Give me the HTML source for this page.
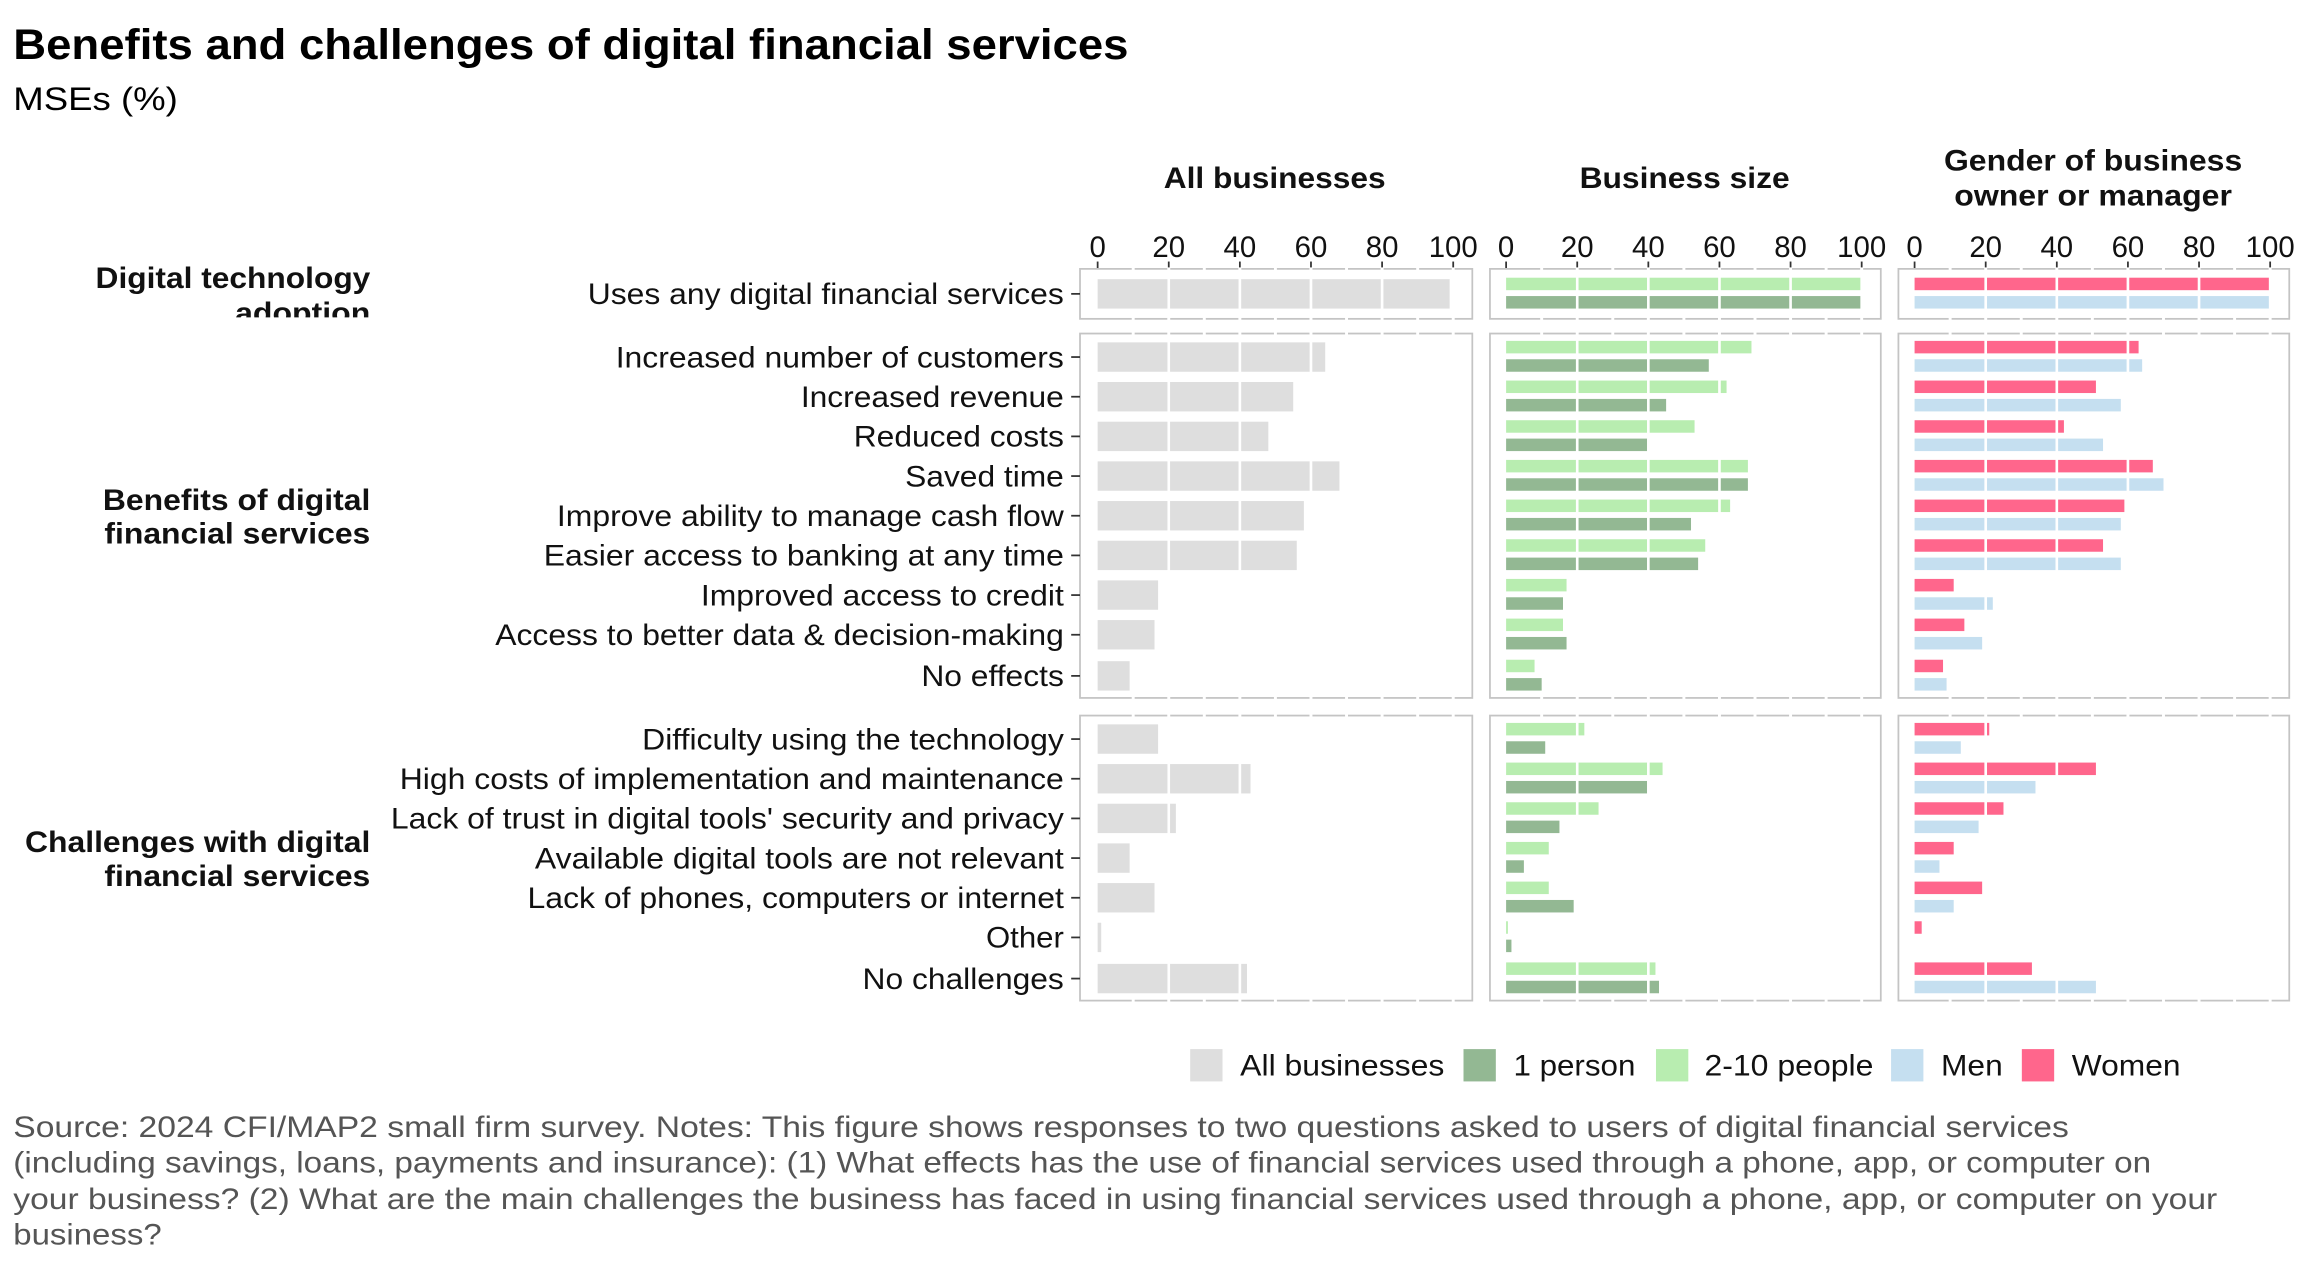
<!DOCTYPE html>
<html><head><meta charset="utf-8"><style>
html,body{margin:0;padding:0;background:#fff;}
svg{display:block;font-family:"Liberation Sans",Arial,sans-serif;}
</style></head><body>
<svg id="s" width="2304" height="1267" viewBox="0 0 1568 862.3" xmlns="http://www.w3.org/2000/svg">
<rect width="1568" height="863" fill="#fff"/>
<text x="9" y="40" font-size="29" font-weight="bold" fill="#000" textLength="759" lengthAdjust="spacingAndGlyphs">Benefits and challenges of digital financial services</text>
<text x="9" y="75" font-size="22" fill="#000" textLength="112" lengthAdjust="spacingAndGlyphs">MSEs (%)</text>
<g font-size="20" font-weight="bold" fill="#111" lengthAdjust="spacingAndGlyphs">
<text x="792" y="128" textLength="151" lengthAdjust="spacingAndGlyphs">All businesses</text>
<text x="1075" y="128" textLength="143" lengthAdjust="spacingAndGlyphs">Business size</text>
<text x="1323" y="116" textLength="203" lengthAdjust="spacingAndGlyphs">Gender of business</text>
<text x="1330" y="140" textLength="189" lengthAdjust="spacingAndGlyphs">owner or manager</text>
</g>
<g id="ax" font-size="20" text-anchor="middle" fill="#111"></g>
<g id="panels"></g>
<g font-size="20" fill="#111">
<text x="400" y="207" textLength="324" lengthAdjust="spacingAndGlyphs">Uses any digital financial services</text>
<text x="419" y="250" textLength="305" lengthAdjust="spacingAndGlyphs">Increased number of customers</text>
<text x="545" y="277" textLength="179" lengthAdjust="spacingAndGlyphs">Increased revenue</text>
<text x="581" y="304" textLength="143" lengthAdjust="spacingAndGlyphs">Reduced costs</text>
<text x="616" y="331" textLength="108" lengthAdjust="spacingAndGlyphs">Saved time</text>
<text x="379" y="358" textLength="345" lengthAdjust="spacingAndGlyphs">Improve ability to manage cash flow</text>
<text x="370" y="385" textLength="354" lengthAdjust="spacingAndGlyphs">Easier access to banking at any time</text>
<text x="477" y="412" textLength="247" lengthAdjust="spacingAndGlyphs">Improved access to credit</text>
<text x="337" y="439" textLength="387" lengthAdjust="spacingAndGlyphs">Access to better data &amp; decision-making</text>
<text x="627" y="467" textLength="97" lengthAdjust="spacingAndGlyphs">No effects</text>
<text x="437" y="510" textLength="287" lengthAdjust="spacingAndGlyphs">Difficulty using the technology</text>
<text x="272" y="537" textLength="452" lengthAdjust="spacingAndGlyphs">High costs of implementation and maintenance</text>
<text x="266" y="564" textLength="458" lengthAdjust="spacingAndGlyphs">Lack of trust in digital tools' security and privacy</text>
<text x="364" y="591" textLength="360" lengthAdjust="spacingAndGlyphs">Available digital tools are not relevant</text>
<text x="359" y="618" textLength="365" lengthAdjust="spacingAndGlyphs">Lack of phones, computers or internet</text>
<text x="671" y="645" textLength="53" lengthAdjust="spacingAndGlyphs">Other</text>
<text x="587" y="673" textLength="137" lengthAdjust="spacingAndGlyphs">No challenges</text>
</g>
<defs><clipPath id="cA"><rect x="0" y="181" width="300" height="35"/></clipPath></defs>
<g font-size="20" font-weight="bold" fill="#111">
<g clip-path="url(#cA)">
<text x="65" y="196" textLength="187" lengthAdjust="spacingAndGlyphs">Digital technology</text>
<text x="160" y="220" textLength="92" lengthAdjust="spacingAndGlyphs">adoption</text>
</g>
<text x="70" y="347" textLength="182" lengthAdjust="spacingAndGlyphs">Benefits of digital</text>
<text x="71" y="370" textLength="181" lengthAdjust="spacingAndGlyphs">financial services</text>
<text x="17" y="580" textLength="235" lengthAdjust="spacingAndGlyphs">Challenges with digital</text>
<text x="71" y="603" textLength="181" lengthAdjust="spacingAndGlyphs">financial services</text>
</g>
<g font-size="20" fill="#111">
<rect x="810" y="714" width="22" height="22" fill="#dedede"/><text x="844" y="732" textLength="139" lengthAdjust="spacingAndGlyphs">All businesses</text>
<rect x="996" y="714" width="22" height="22" fill="#93b893"/><text x="1030" y="732" textLength="83" lengthAdjust="spacingAndGlyphs">1 person</text>
<rect x="1127" y="714" width="22" height="22" fill="#b8edb0"/><text x="1160" y="732" textLength="115" lengthAdjust="spacingAndGlyphs">2-10 people</text>
<rect x="1287" y="714" width="22" height="22" fill="#c5dff0"/><text x="1321" y="732" textLength="42" lengthAdjust="spacingAndGlyphs">Men</text>
<rect x="1376" y="714" width="22" height="22" fill="#ff668c"/><text x="1410" y="732" textLength="74" lengthAdjust="spacingAndGlyphs">Women</text>
</g>
<g font-size="20" fill="#555">
<text x="9" y="774" textLength="1399" lengthAdjust="spacingAndGlyphs">Source: 2024 CFI/MAP2 small firm survey. Notes: This figure shows responses to two questions asked to users of digital financial services</text>
<text x="9" y="798" textLength="1455" lengthAdjust="spacingAndGlyphs">(including savings, loans, payments and insurance): (1) What effects has the use of financial services used through a phone, app, or computer on</text>
<text x="9" y="823" textLength="1500" lengthAdjust="spacingAndGlyphs">your business? (2) What are the main challenges the business has faced in using financial services used through a phone, app, or computer on your</text>
<text x="9" y="847" textLength="101" lengthAdjust="spacingAndGlyphs">business?</text>
</g>
</svg>
<script>
(function(){
var NS="http://www.w3.org/2000/svg";
function el(p,t,a){var e=document.createElementNS(NS,t);for(var k in a)e.setAttribute(k,a[k]);p.appendChild(e);return e;}
var P=document.getElementById("panels"),AX=document.getElementById("ax");
var px=[[735,1002,747],[1014,1280,1025],[1292,1558,1303]];
var sc=2.42;
var rows=[200,243,270,297,324,351,378,405,432,460,503,530,557,584,611,638,666];
var all=[99,64,55,48,68,58,56,17,16,9,17,43,22,9,16,1,42];
var big=[100,69,62,53,68,63,56,17,16,8,22,44,26,12,12,0.5,42];
var one=[100,57,45,40,68,52,54,16,17,10,11,40,15,5,19,1.5,43];
var wom=[100,63,51,42,67,59,53,11,14,8,21,51,25,11,19,2,33];
var men=[100,64,58,53,70,58,58,22,19,9,13,34,18,7,11,0,51];
var strips=[[183,217],[227,475],[487,681]];
px.forEach(function(p){
 for(var v=0;v<=100;v+=20){var x=p[2]+v*sc;
  el(AX,"line",{x1:x,x2:x,y1:178,y2:183,stroke:"#333","stroke-width":1.2});
  var t=el(AX,"text",{x:x,y:175});t.textContent=v;}
 strips.forEach(function(s){
  el(P,"rect",{x:p[0],y:s[0],width:p[1]-p[0],height:s[1]-s[0],fill:"#fff",stroke:"#c4c4c4","stroke-width":1.2});
 });
});
function bar(pi,y,h,v,c){if(v<=0)return;el(P,"rect",{x:px[pi][2],y:y,width:v*sc,height:h,fill:c});}
rows.forEach(function(y,i){
 bar(0,y-10,20,all[i],"#dedede");
 bar(1,y-11,8.5,big[i],"#b8edb0");bar(1,y+1.5,8.5,one[i],"#93b893");
 bar(2,y-11,8.5,wom[i],"#ff668c");bar(2,y+1.5,8.5,men[i],"#c5dff0");
});
px.forEach(function(p){
 strips.forEach(function(s){
  for(var v=10;v<=100;v+=10){var x=p[2]+v*sc;var maj=v%20==0;
   if(maj) el(P,"line",{x1:x,x2:x,y1:s[0]+1,y2:s[1]-1,stroke:"#fff","stroke-width":1.8});
   el(P,"line",{x1:x,x2:x,y1:s[0]-1,y2:s[0]+2,stroke:"#fff","stroke-width":2});
   el(P,"line",{x1:x,x2:x,y1:s[1]-2,y2:s[1]+1,stroke:"#fff","stroke-width":2});}
 });
});
rows.forEach(function(y){el(P,"line",{x1:729,x2:735,y1:y,y2:y,stroke:"#333","stroke-width":1.2});});
})();
</script>
</body></html>
